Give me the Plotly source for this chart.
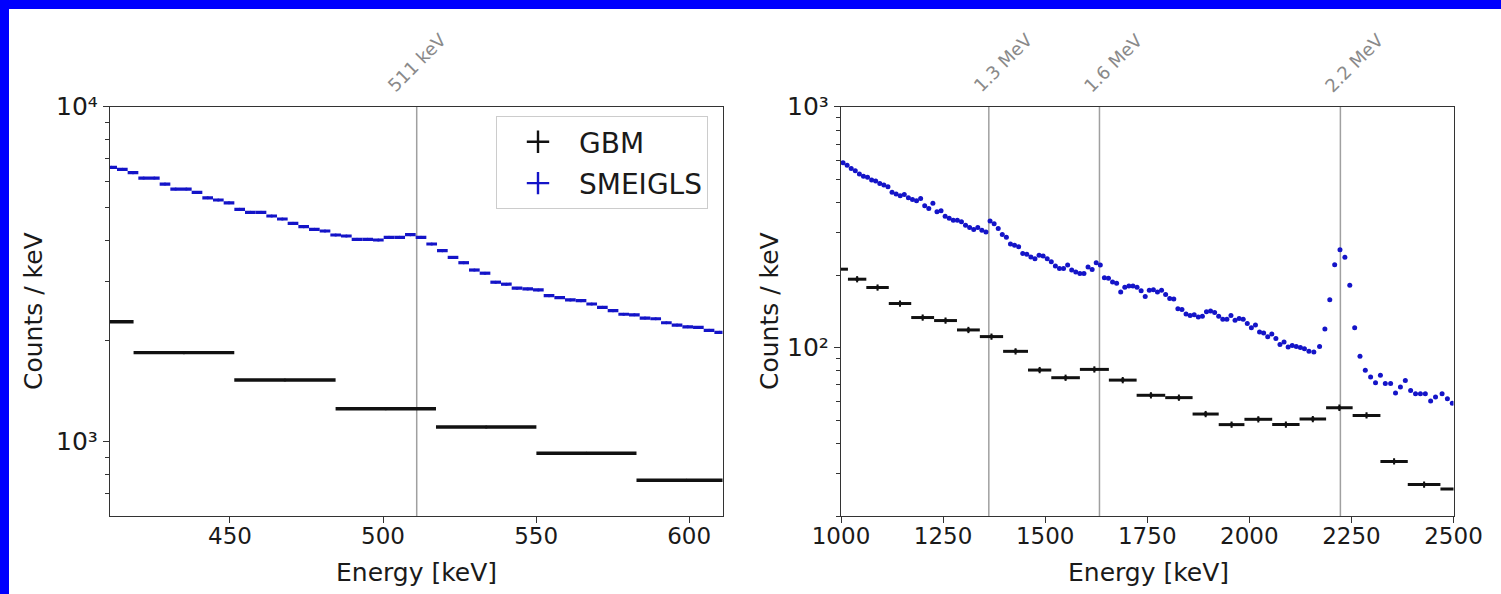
import numpy as np
import plotly.graph_objects as go

W, H = 1501, 594

# ---------------- data: left panel (around 511 keV) ----------------
smeigls_lo_start = 409.6      # keV, lower edge of first SMEIGLS channel
smeigls_lo_width = 3.485      # keV per SMEIGLS channel
smeigls_lo_counts = [6592, 6502, 6353, 6124, 6124, 5875, 5676, 5676, 5547, 5345,
                     5266, 5165, 4939, 4838, 4838, 4718, 4622, 4487, 4385, 4305,
                     4256, 4140, 4111, 4018, 4018, 4000, 4074, 4074, 4150, 4074,
                     3892, 3716, 3549, 3422, 3254, 3184, 2993, 2952, 2872, 2858,
                     2838, 2729, 2692, 2649, 2636, 2576, 2518, 2461, 2401, 2392,
                     2339, 2328, 2265, 2229, 2203, 2193, 2150, 2120]
gbm_lo_edges = [385.6, 418.5, 451.4, 484.5, 517.3, 550.1, 582.8, 615.5]
gbm_lo_counts = [2281, 1844, 1528, 1254, 1106, 924, 767]

# ---------------- data: right panel (1-2.5 MeV) ----------------
smeigls_hi_energy = [1005, 1015, 1025, 1035, 1045, 1055, 1065, 1075, 1085, 1095,
                     1105, 1115, 1125, 1135, 1145, 1155, 1165, 1175, 1185, 1195,
                     1205, 1215, 1225, 1235, 1245, 1255, 1265, 1275, 1285, 1295,
                     1305, 1315, 1325, 1335, 1345, 1355, 1365, 1375, 1385, 1395,
                     1405, 1415, 1425, 1435, 1445, 1455, 1465, 1475, 1485, 1495,
                     1505, 1515, 1525, 1535, 1545, 1555, 1565, 1575, 1585, 1595,
                     1605, 1615, 1625, 1635, 1645, 1655, 1665, 1675, 1685, 1695,
                     1705, 1715, 1725, 1735, 1745, 1755, 1765, 1775, 1785, 1795,
                     1805, 1815, 1825, 1835, 1845, 1855, 1865, 1875, 1885, 1895,
                     1905, 1915, 1925, 1935, 1945, 1955, 1965, 1975, 1985, 1995,
                     2005, 2015, 2025, 2035, 2045, 2055, 2065, 2075, 2085, 2095,
                     2105, 2115, 2125, 2135,
                     2146, 2158, 2172, 2185, 2197, 2209, 2222, 2234, 2246, 2258,
                     2271, 2284, 2297, 2309, 2321, 2333, 2346, 2358, 2370, 2382,
                     2395, 2407, 2419, 2431, 2444, 2456, 2472, 2485, 2497]
smeigls_hi_counts = [585, 572, 554, 542, 525, 515, 509, 496, 491, 480,
                     473, 465, 441, 434, 427, 432, 419, 412, 407, 416,
                     388, 378, 397, 366, 370, 351, 344, 338, 338, 333,
                     322, 315, 309, 315, 307, 302, 335, 327, 312, 295,
                     287, 269, 266, 262, 246, 244, 238, 234, 242, 240,
                     234, 227, 218, 213, 213, 220, 210, 206, 203, 203,
                     216, 211, 225, 220, 195, 194, 187, 185, 170, 178,
                     180, 180, 178, 172, 163, 173, 174, 170, 173, 166,
                     160, 159, 145, 144, 138, 136, 137, 134, 135, 141,
                     142, 140, 135, 131, 131, 136, 130, 132, 131, 126,
                     121, 124, 116, 115, 111, 114, 109, 103, 105.5, 100.6,
                     102, 101, 100, 99,
                     96.5, 95.9, 101, 119.5, 158, 221, 255, 237, 181.5, 121,
                     92, 80.5, 75.5, 71.5, 76.7, 70.9, 70.9, 64.8, 68.6, 73.1,
                     66.4, 64.4, 64.4, 64.4, 60.0, 62.3, 64.4, 61.4, 58.8]
gbm_hi_edges = [962, 1017, 1062, 1117, 1172, 1228, 1284, 1340, 1397, 1458, 1515,
                1585, 1656, 1724, 1794, 1861, 1925, 1988, 2056, 2123, 2188, 2253,
                2321, 2388, 2468, 2550]
gbm_hi_counts = [211.6, 192.3, 177.6, 152.4, 133.3, 129.5, 118.4, 111.1, 96.5, 80.7,
                 75.0, 81.2, 73.3, 63.4, 62.0, 53.0, 47.9, 50.4, 47.9, 50.5,
                 56.3, 52.3, 33.7, 27.0, 25.9]

lines_lo = [511]
labels_lo = ["511 keV"]
lines_hi = [1362, 1633, 2223]
labels_hi = ["1.3 MeV", "1.6 MeV", "2.2 MeV"]

xticks_lo = [450, 500, 550, 600]
xticks_hi = [1000, 1250, 1500, 1750, 2000, 2250, 2500]
yticks_lo = [1000, 10000]
yticklabels_lo = ["10³", "10⁴"]
yticks_hi = [100, 1000]
yticklabels_hi = ["10²", "10³"]

# ---------------- derived bin geometry ----------------
n_lo = len(smeigls_lo_counts)
sm_lo_x = smeigls_lo_start + smeigls_lo_width * (np.arange(n_lo) + 0.5)
sm_lo_hw = np.full(n_lo, smeigls_lo_width / 2)
e = np.array(gbm_lo_edges)
gbm_lo_x = (e[1:] + e[:-1]) / 2
gbm_lo_hw = (e[1:] - e[:-1]) / 2
e = np.array(gbm_hi_edges)
gbm_hi_x = (e[1:] + e[:-1]) / 2
gbm_hi_hw = (e[1:] - e[:-1]) / 2

BLUE = "#1414c8"
BLACK = "#111111"
GREY = "#a0a0a0"
FONT = "DejaVu Sans"
TXT = "#1a1a1a"

fig = go.Figure()

# left panel
fig.add_trace(go.Scatter(x=sm_lo_x, y=smeigls_lo_counts, mode="markers",
                         marker=dict(size=3, color=BLUE),
                         error_x=dict(type="data", array=sm_lo_hw, thickness=3.2, width=0, color=BLUE),
                         xaxis="x", yaxis="y", showlegend=False, name="SMEIGLS"))
fig.add_trace(go.Scatter(x=gbm_lo_x, y=gbm_lo_counts, mode="markers",
                         marker=dict(size=3, color=BLACK),
                         error_x=dict(type="data", array=gbm_lo_hw, thickness=3.4, width=0, color=BLACK),
                         xaxis="x", yaxis="y", showlegend=False, name="GBM"))
# right panel
fig.add_trace(go.Scatter(x=smeigls_hi_energy, y=smeigls_hi_counts, mode="markers",
                         marker=dict(size=5, color=BLUE),
                         xaxis="x2", yaxis="y2", showlegend=False, name="SMEIGLS"))
fig.add_trace(go.Scatter(x=gbm_hi_x, y=gbm_hi_counts, mode="markers",
                         marker=dict(size=4, color=BLACK),
                         error_x=dict(type="data", array=gbm_hi_hw, thickness=3, width=0, color=BLACK),
                         error_y=dict(type="percent", value=3, thickness=2, width=0, color=BLACK),
                         xaxis="x2", yaxis="y2", showlegend=False, name="GBM"))

# legend entries
fig.add_trace(go.Scatter(x=[None], y=[None], mode="markers", name="GBM", legendgroup="g",
                         marker=dict(symbol="cross-thin", size=22, color=BLACK,
                                     line=dict(width=2.4, color=BLACK)),
                         xaxis="x", yaxis="y"))
fig.add_trace(go.Scatter(x=[None], y=[None], mode="markers", name="SMEIGLS", legendgroup="s",
                         marker=dict(symbol="cross-thin", size=22, color=BLUE,
                                     line=dict(width=2.4, color=BLUE)),
                         xaxis="x", yaxis="y"))

ydom = [1 - 516 / H, 1 - 106.7 / H]
axis_common = dict(showgrid=False, zeroline=False, showline=True, linecolor="#333333",
                   linewidth=1.3, mirror=True, ticks="outside", ticklen=6, tickwidth=1.2,
                   tickcolor="#333333", automargin=False)
xfont = dict(family=FONT, size=23, color=TXT)
yfont = dict(family=FONT, size=25, color=TXT)

minor_lo = [700, 800, 900, 2000, 3000, 4000, 5000, 6000, 7000, 8000, 9000]
minor_hi = [20, 30, 40, 50, 60, 70, 80, 90, 200, 300, 400, 500, 600, 700, 800, 900]

fig.update_layout(
    width=W, height=H, template="none",
    paper_bgcolor="white", plot_bgcolor="white",
    margin=dict(l=0, r=0, t=0, b=0),
    xaxis=dict(domain=[110 / W, 722.5 / W], range=[410.8, 610.9], anchor="y",
               tickvals=xticks_lo, tickfont=xfont, ticklabelstandoff=-7, **axis_common),
    yaxis=dict(domain=ydom, type="log", range=[np.log10(600), 4], anchor="x",
               tickvals=yticks_lo, ticktext=yticklabels_lo, tickfont=yfont,
               minor=dict(tickvals=minor_lo, ticks="outside", ticklen=3.5, tickcolor="#333333"),
               **axis_common),
    xaxis2=dict(domain=[841 / W, 1453.5 / W], range=[1000, 2500], anchor="y2",
                tickvals=xticks_hi, tickfont=xfont, ticklabelstandoff=-7, **axis_common),
    yaxis2=dict(domain=ydom, type="log", range=[np.log10(20), 3], anchor="x2",
                tickvals=yticks_hi, ticktext=yticklabels_hi, tickfont=yfont,
                minor=dict(tickvals=minor_hi, ticks="outside", ticklen=3.5, tickcolor="#333333"),
                **axis_common),
    legend=dict(x=708 / W, xanchor="right", y=1 - 116 / H, yanchor="top",
                font=dict(family=FONT, size=28, color=TXT), bgcolor="white",
                bordercolor="#cccccc", borderwidth=1, tracegroupgap=2, itemwidth=72),
    font=dict(family=FONT, color=TXT),
)

shapes = [
    dict(type="rect", xref="paper", yref="paper", x0=0, x1=1, y0=1 - 9 / H, y1=1,
         fillcolor="#0000fe", line=dict(width=0), layer="above"),
    dict(type="rect", xref="paper", yref="paper", x0=0, x1=9 / W, y0=0, y1=1,
         fillcolor="#0000fe", line=dict(width=0), layer="above"),
]
annotations = []
for xv, lab in zip(lines_lo, labels_lo):
    shapes.append(dict(type="line", xref="x", yref="y domain", x0=xv, x1=xv, y0=0, y1=1,
                       line=dict(color=GREY, width=1.5), layer="below"))
    annotations.append(dict(x=xv, xref="x", y=1, yref="y domain", text=lab, showarrow=False,
                            textangle=-45, xanchor="center", yanchor="bottom", yshift=8,
                            font=dict(family=FONT, size=18, color="#8a8a8a")))
for xv, lab in zip(lines_hi, labels_hi):
    shapes.append(dict(type="line", xref="x2", yref="y2 domain", x0=xv, x1=xv, y0=0, y1=1,
                       line=dict(color=GREY, width=1.5), layer="below"))
    annotations.append(dict(x=xv, xref="x2", y=1, yref="y2 domain", text=lab, showarrow=False,
                            textangle=-45, xanchor="center", yanchor="bottom", yshift=8, xshift=14,
                            font=dict(family=FONT, size=18, color="#8a8a8a")))

# axis titles
for xc in [33 / W, 769 / W]:
    annotations.append(dict(x=xc, xref="paper", y=1 - 311 / H, yref="paper", text="Counts / keV",
                            showarrow=False, textangle=-90, xanchor="center", yanchor="middle",
                            font=dict(family=FONT, size=25, color=TXT)))
for xc in [416 / W, 1148 / W]:
    annotations.append(dict(x=xc, xref="paper", y=1 - 572 / H, yref="paper", text="Energy [keV]",
                            showarrow=False, xanchor="center", yanchor="middle",
                            font=dict(family=FONT, size=25, color=TXT)))

fig.update_layout(shapes=shapes, annotations=annotations)

fig.write_html("out.html", config={"displayModeBar": False},
               post_script="document.body.style.margin='0';document.body.style.overflow='hidden';")
